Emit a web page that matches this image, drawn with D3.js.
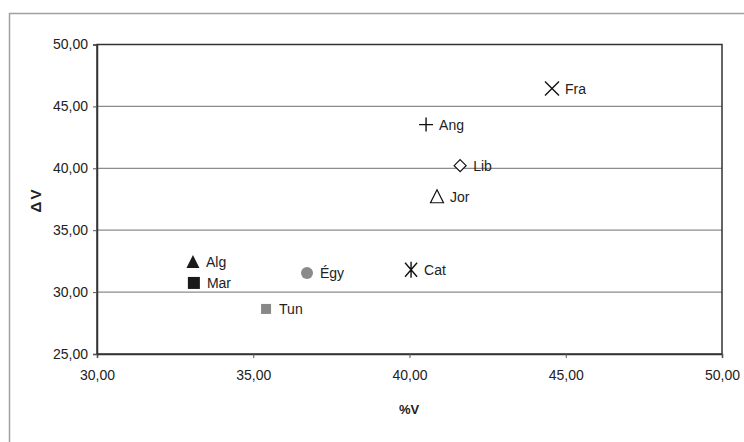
<!DOCTYPE html>
<html>
<head>
<meta charset="utf-8">
<script src="https://cdn.jsdelivr.net/npm/d3@7"></script>
<style>
  body { margin: 0; background: #fff; }
  svg text { font-family: "Liberation Sans", Arial, sans-serif; }
</style>
</head>
<body>
<svg id="chart" width="744" height="442"></svg>
<script>
// data
const labels = ["Fra", "Ang", "Lib", "Jor", "Cat", "Égy", "Alg", "Mar", "Tun"];
const pctV   = [44.56, 40.53, 41.62, 40.88, 40.05, 36.72, 33.07, 33.10, 35.41];
const deltaV = [46.44, 43.53, 40.21, 37.70, 31.80, 31.55, 32.44, 30.74, 28.64];
const shapes = ["x", "plus", "diamond", "triangleOpen", "asterisk", "circle", "triangle", "square", "squareGray"];
const xTicks = [30, 35, 40, 45, 50];
const yTicks = [25, 30, 35, 40, 45, 50];

const svg = d3.select("#chart");
const margin = {top: 44.5, left: 97, right: 22, bottom: 88};
const width = 744 - margin.left - margin.right,
      height = 442 - margin.top - margin.bottom;
const font = "Liberation Sans, Arial, sans-serif";

// outer frame (only top and left visible)
svg.append("path")
  .attr("d", "M9.5,442 V13.5 H744")
  .attr("fill", "none")
  .attr("stroke", "#a0a0a0")
  .attr("stroke-width", 1.5);

const x = d3.scaleLinear().domain([30, 50]).range([0, width]);
const y = d3.scaleLinear().domain([25, 50]).range([height, 0]);
const fmt = d => d3.format(".2f")(d).replace(".", ",");

const g = svg.append("g").attr("transform", `translate(${margin.left},${margin.top})`);

// gridlines
g.append("g")
  .selectAll("line")
  .data(yTicks.filter(d => d > 25 && d < 50))
  .enter().append("line")
  .attr("x1", 0).attr("x2", width)
  .attr("y1", d => y(d)).attr("y2", d => y(d))
  .attr("stroke", "#8c8c8c").attr("stroke-width", 1.2);

// plot border
g.append("rect")
  .attr("x", 0).attr("y", 0)
  .attr("width", width).attr("height", height)
  .attr("fill", "none").attr("stroke", "#333").attr("stroke-width", 1.5);

const xAxis = g.append("g")
  .attr("transform", `translate(0,${height})`)
  .call(d3.axisBottom(x).tickValues(xTicks).tickFormat(fmt).tickSize(4).tickPadding(12));
const yAxis = g.append("g")
  .call(d3.axisLeft(y).tickValues(yTicks).tickFormat(fmt).tickSize(4).tickPadding(5));
[xAxis, yAxis].forEach(a => {
  a.select(".domain").attr("stroke", "#333").attr("stroke-width", 1.5);
  a.selectAll(".tick line").attr("stroke", "#555");
  a.selectAll("text").attr("font-size", 14).attr("fill", "#222")
    .attr("font-family", font);
});

// axis titles
svg.append("text")
  .attr("x", 409).attr("y", 414)
  .attr("text-anchor", "middle")
  .attr("font-size", 13).attr("font-weight", "bold").attr("fill", "#222")
  .text("%V");
svg.append("text")
  .attr("transform", "translate(41,200) rotate(-90)")
  .attr("text-anchor", "middle")
  .attr("font-size", 15).attr("font-weight", "bold").attr("fill", "#222")
  .attr("letter-spacing", 2)
  .text("ΔV");

// markers
const pts = labels.map((l, i) => ({label: l, x: pctV[i], y: deltaV[i], shape: shapes[i]}));
const m = g.append("g").selectAll("g").data(pts).enter().append("g")
  .attr("transform", d => `translate(${x(d.x)},${y(d.y)})`);

m.each(function(d) {
  const s = d3.select(this);
  const k = "#111";
  if (d.shape === "x") {
    s.append("path").attr("d", "M-7,-7L7,7M-7,7L7,-7").attr("stroke", k).attr("stroke-width", 1.4);
  } else if (d.shape === "plus") {
    s.append("path").attr("d", "M-7,0H7M0,-7V7").attr("stroke", k).attr("stroke-width", 1.4);
  } else if (d.shape === "diamond") {
    s.append("path").attr("d", "M0,-6L6,0L0,6L-6,0Z").attr("fill", "#fff").attr("stroke", k).attr("stroke-width", 1.2);
  } else if (d.shape === "triangleOpen") {
    s.append("path").attr("d", "M0,-7L6.5,6L-6.5,6Z").attr("fill", "#fff").attr("stroke", k).attr("stroke-width", 1.2);
  } else if (d.shape === "asterisk") {
    s.append("path").attr("d", "M-6,-7L6,7M-6,7L6,-7M0,-8V8").attr("stroke", k).attr("stroke-width", 1.4);
  } else if (d.shape === "circle") {
    s.append("circle").attr("r", 6).attr("fill", "#8a8a8a");
  } else if (d.shape === "triangle") {
    s.append("path").attr("d", "M0,-7L6.5,6L-6.5,6Z").attr("fill", "#1a1a1a");
  } else if (d.shape === "square") {
    s.append("rect").attr("x", -6).attr("y", -6).attr("width", 12).attr("height", 12).attr("fill", "#1a1a1a");
  } else if (d.shape === "squareGray") {
    s.append("rect").attr("x", -5).attr("y", -5).attr("width", 10).attr("height", 10).attr("fill", "#888");
  }
  s.append("text")
    .attr("x", 13).attr("y", 5)
    .attr("font-size", 14).attr("fill", "#222")
    .attr("font-family", font)
    .text(d.label);
});
</script>
</body>
</html>
